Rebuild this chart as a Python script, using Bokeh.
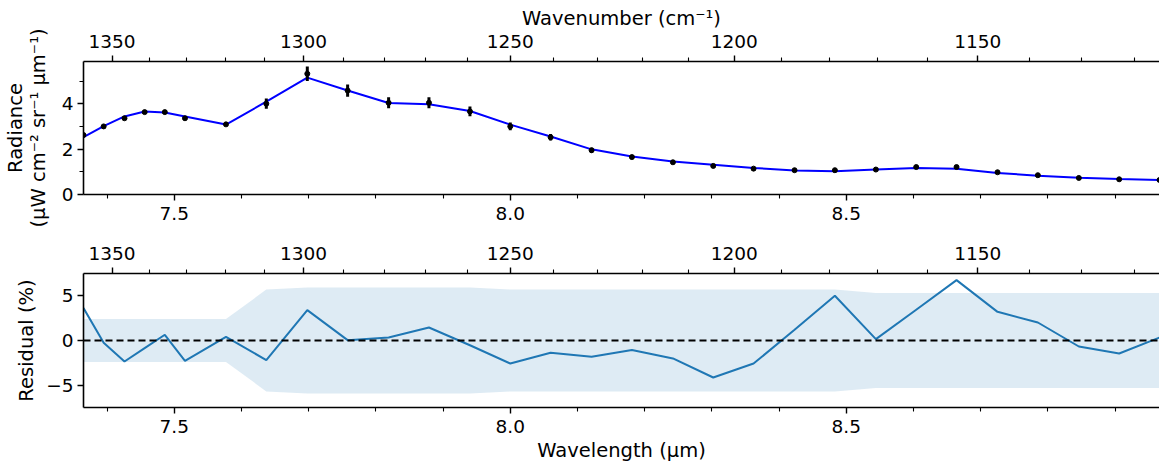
from bokeh.plotting import figure
from bokeh.models import Range1d, LinearAxis, FixedTicker, CustomJSTickFormatter, Span, ColumnDataSource
from bokeh.layouts import column
from bokeh.embed import file_html
from bokeh.resources import INLINE

# ---- data ----
wavelength = [7.365, 7.395, 7.426, 7.456, 7.486, 7.516, 7.577, 7.637, 7.698, 7.758,
              7.819, 7.879, 7.940, 8.000, 8.060, 8.121, 8.181, 8.242, 8.302, 8.362,
              8.423, 8.483, 8.544, 8.604, 8.664, 8.725, 8.785, 8.846, 8.906, 8.966]
radiance = [2.62, 3.00, 3.36, 3.63, 3.63, 3.36, 3.09, 4.00, 5.32, 4.58,
            4.04, 4.04, 3.66, 3.00, 2.52, 1.95, 1.65, 1.42, 1.26, 1.14,
            1.07, 1.07, 1.10, 1.21, 1.21, 0.98, 0.85, 0.73, 0.67, 0.64]
model = [2.53, 3.01, 3.44, 3.66, 3.61, 3.44, 3.08, 4.09, 5.15, 4.58,
         4.03, 3.98, 3.68, 3.08, 2.555, 1.99, 1.67, 1.45, 1.31, 1.17,
         1.057, 1.02, 1.10, 1.17, 1.13, 0.95, 0.83, 0.735, 0.68, 0.64]
residual = [3.62, -0.26, -2.34, -0.85, 0.64, -2.27, 0.41, -2.19, 3.39, 0.04,
            0.33, 1.45, -0.53, -2.57, -1.37, -1.82, -1.07, -2.00, -4.13, -2.57,
            1.19, 4.99, 0.15, 3.44, 6.74, 3.20, 2.01, -0.67, -1.45, 0.33]
uncert_pct = [2.4, 2.4, 2.4, 2.4, 2.4, 2.4, 2.4, 5.68, 5.93, 5.93,
              5.93, 5.93, 5.93, 5.68, 5.68, 5.68, 5.68, 5.68, 5.68, 5.68,
              5.68, 5.68, 5.29, 5.29, 5.29, 5.29, 5.29, 5.29, 5.29, 5.29]

wn_major = [1350, 1300, 1250, 1200, 1150]
wn_minor = [1360, 1340, 1330, 1320, 1310, 1290, 1280, 1270, 1260, 1240, 1230, 1220,
            1210, 1190, 1180, 1170, 1160, 1140, 1130, 1120]
wl_major = [7.5, 8.0, 8.5]
wl_minor = [7.4, 7.6, 7.7, 7.8, 7.9, 8.1, 8.2, 8.3, 8.4, 8.6, 8.7, 8.8, 8.9]

err_abs = [r * u / 100.0 for r, u in zip(radiance, uncert_pct)]
src = ColumnDataSource(dict(
    wl=wavelength, rad=radiance, model=model, res=residual,
    lo=[r - e for r, e in zip(radiance, err_abs)],
    hi=[r + e for r, e in zip(radiance, err_abs)],
    bup=uncert_pct, blo=[-u for u in uncert_pct],
))

FONT = "DejaVu Sans"
TICK_FS = "18.5px"
TITLE_FS = "19.5px"
XR = (wavelength[0], wavelength[-1])


def style_axis(ax):
    ax.axis_line_color = "black"
    ax.axis_line_width = 1.6
    ax.major_tick_line_color = "black"
    ax.major_tick_line_width = 1.4
    ax.minor_tick_line_color = "black"
    ax.minor_tick_line_width = 1.1
    ax.major_tick_in = 0
    ax.major_tick_out = 6
    ax.minor_tick_in = 0
    ax.minor_tick_out = 4
    ax.major_label_text_font = FONT
    ax.major_label_text_font_size = TICK_FS
    ax.major_label_text_color = "black"
    ax.axis_label_text_font = FONT
    ax.axis_label_text_font_size = TITLE_FS
    ax.axis_label_text_font_style = "normal"
    ax.axis_label_text_color = "black"
    ax.axis_label_text_line_height = 1.0
    ax.major_label_standoff = 4
    ax.axis_label_standoff = 4


wn_ticker = FixedTicker(ticks=[10000.0 / w for w in wn_major],
                        minor_ticks=[10000.0 / w for w in wn_minor])
wn_fmt = CustomJSTickFormatter(code="return Math.round(10000/tick).toString();")
wl_ticker = FixedTicker(ticks=wl_major, minor_ticks=wl_minor)
wl_fmt = CustomJSTickFormatter(code="return tick.toFixed(1);")
y_fmt = CustomJSTickFormatter(code="return tick < 0 ? '\u2212' + Math.abs(tick) : tick.toString();")


def make_fig(yr, height, top, bottom):
    p = figure(width=1159, height=height, x_range=Range1d(*XR), y_range=Range1d(*yr),
               output_backend="svg", toolbar_location=None,
               min_border_left=82, min_border_right=0,
               min_border_top=top, min_border_bottom=bottom,
               x_axis_location=None, y_axis_location=None)
    p.outline_line_color = None
    p.background_fill_color = "white"
    p.border_fill_color = "white"
    p.xgrid.visible = False
    p.ygrid.visible = False
    return p


# ---- top panel ----
p1 = make_fig((0, 5.86), 236, 61, 42)
ax_top = LinearAxis(ticker=wn_ticker, formatter=wn_fmt, axis_label="Wavenumber (cm\u207b\u00b9)")
style_axis(ax_top)
ax_top.major_label_standoff = 8
ax_top.axis_label_standoff = 2
p1.add_layout(ax_top, "above")
ax_b1 = LinearAxis(ticker=wl_ticker, formatter=wl_fmt)
style_axis(ax_b1)
ax_b1.major_label_standoff = 6
p1.add_layout(ax_b1, "below")
ax_l1 = LinearAxis(ticker=FixedTicker(ticks=[0, 2, 4], minor_ticks=[1, 3, 5]), formatter=y_fmt,
                   axis_label="Radiance\n(\u03bcW cm\u207b\u00b2 sr\u207b\u00b9 \u03bcm\u207b\u00b9)")
style_axis(ax_l1)
ax_l1.axis_label_standoff = 9
p1.add_layout(ax_l1, "left")

p1.line("wl", "model", source=src, line_color="#0000ff", line_width=2)
p1.segment(x0="wl", y0="lo", x1="wl", y1="hi", source=src, line_color="black", line_width=3)
p1.scatter("wl", "rad", source=src, size=5, fill_color="black", line_color="black")

# ---- bottom panel ----
p2 = make_fig((-7.48, 7.48), 228, 37, 57)
ax_t2 = LinearAxis(ticker=wn_ticker, formatter=wn_fmt)
style_axis(ax_t2)
ax_t2.major_label_standoff = 8
p2.add_layout(ax_t2, "above")
ax_b2 = LinearAxis(ticker=wl_ticker, formatter=wl_fmt, axis_label="Wavelength (\u03bcm)")
style_axis(ax_b2)
ax_b2.major_label_standoff = 6
ax_b2.axis_label_standoff = 3
p2.add_layout(ax_b2, "below")
ax_l2 = LinearAxis(ticker=FixedTicker(ticks=[-5, 0, 5], minor_ticks=[]), formatter=y_fmt,
                   axis_label="Residual (%)")
style_axis(ax_l2)
ax_l2.axis_label_standoff = 5
p2.add_layout(ax_l2, "left")

p2.varea(x="wl", y1="blo", y2="bup", source=src, fill_color="#1f77b4", fill_alpha=0.15)
p2.add_layout(Span(location=0, dimension="width", line_color="black", line_width=2, line_dash="7 4"))
p2.line("wl", "res", source=src, line_color="#1f77b4", line_width=2)

layout = column(p1, p2, spacing=0)
open("out.html", "w").write(file_html(layout, INLINE))
